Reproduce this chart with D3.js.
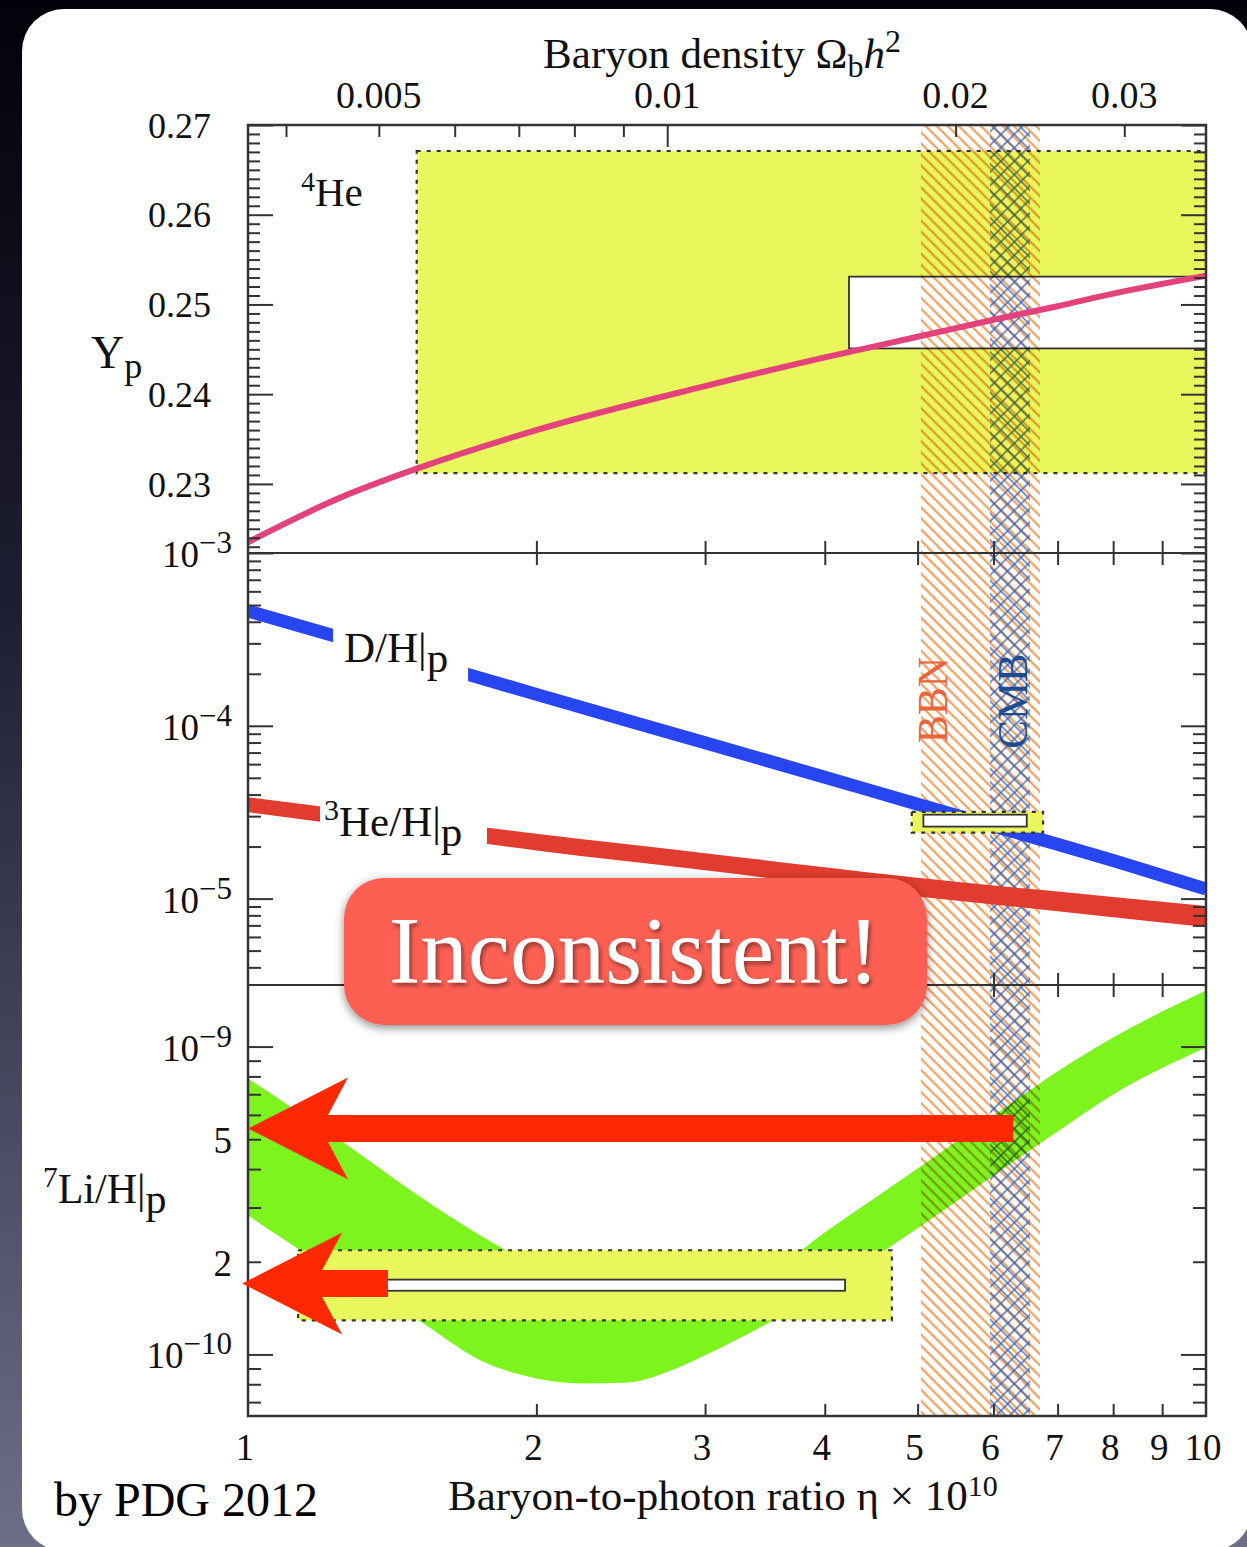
<!DOCTYPE html>
<html>
<head>
<meta charset="utf-8">
<script src="https://cdn.jsdelivr.net/npm/d3@7"></script>
<style>
html, body { margin: 0; padding: 0; background: #000; }
svg text { font-family: "Liberation Serif", "Times New Roman", serif; }
</style>
</head>
<body>
<svg id="chart" width="1247" height="1547"></svg>
<script>

// ---- tick labels ----
let etaLabels = [1, 2, 3, 4, 5, 6, 7, 8, 9, 10];
let omegaLabels = [0.005, 0.01, 0.02, 0.03];
let omegaMinor = [0.004, 0.006, 0.007, 0.008, 0.009];
let ypLabels = [0.23, 0.24, 0.25, 0.26, 0.27];
let midLabels = [1e-3, 1e-4, 1e-5];
let liLabels = [1e-9, 5e-10, 2e-10, 1e-10];

// ---- theory curves ----
let etaYp = [1, 1.25, 1.5, 2, 3, 4, 5, 6, 7, 8, 10];
let ypTheory = [0.2235, 0.2285, 0.2317, 0.2360, 0.2409, 0.2441, 0.2464, 0.2483, 0.2498, 0.2512, 0.2532];

let etaMid = [1, 1.5, 2, 3, 4, 5, 6, 7, 8, 10];
let dhTheory = [4.62e-4, 2.42e-4, 1.52e-4, 7.98e-5, 5.04e-5, 3.52e-5, 2.63e-5, 2.06e-5, 1.66e-5, 1.135e-5];
let he3High = [3.86e-5, 2.90e-5, 2.37e-5, 1.83e-5, 1.52e-5, 1.32e-5, 1.19e-5, 1.10e-5, 1.02e-5, 9.06e-6];
let he3Low = [3.16e-5, 2.35e-5, 1.90e-5, 1.46e-5, 1.20e-5, 1.03e-5, 9.25e-6, 8.46e-6, 7.80e-6, 6.84e-6];

let etaLi = [1, 1.25, 1.5, 1.75, 2, 2.25, 2.5, 2.75, 3, 3.5, 4, 5, 6, 7, 8, 10];
let liHigh = [7.87e-10, 4.95e-10, 3.31e-10, 2.43e-10, 1.945e-10, 1.73e-10, 1.61e-10, 1.60e-10, 1.65e-10, 1.85e-10, 2.49e-10, 4.02e-10, 5.97e-10, 8.30e-10, 1.07e-9, 1.52e-9];
let liLow = [2.83e-10, 1.80e-10, 1.30e-10, 9.56e-11, 8.36e-11, 8.05e-11, 8.11e-11, 8.81e-11, 9.93e-11, 1.27e-10, 1.63e-10, 2.57e-10, 3.81e-10, 5.30e-10, 6.99e-10, 9.93e-10];

// ---- observed abundances: eta range and value range ----
let ypObsEta = [1.5, 10], ypObs = [0.2312, 0.2671];
let ypObsInEta = [4.24, 10], ypObsIn = [0.2451, 0.2531];
let dhObsEta = [4.93, 6.76], dhObs = [2.41e-5, 3.18e-5];
let dhObsInEta = [5.07, 6.50], dhObsIn = [2.61e-5, 3.06e-5];
let liObsEta = [1.128, 4.70], liObs = [1.29e-10, 2.18e-10];
let liObsInEta = [1.25, 4.20], liObsIn = [1.61e-10, 1.75e-10];

let bbnEta = [5.04, 6.71];
let cmbEta = [5.95, 6.55];

// label gaps in the D/H and 3He lines
let dhGap = [1.227, 1.697];
let he3Gap = [1.189, 1.776];

// arrows: from eta -> to eta at a Li value
let arrowFrom = [6.29, 1.40];
let arrowTo = [1.0, 0.986];
let arrowLi = [5.42e-10, 1.70e-10];

const OMEGA_TO_ETA = 273.9;

// ---- layout ----
const W = 1247, H = 1547;
const L = 248, R = 1206, T = 125, B = 1416;
const Y1 = 553, Y2 = 985;
const AX = '#333';

let svg = d3.select('#chart');
let defs = svg.append('defs');

// scales
let x = d3.scaleLog().domain([1, 10]).range([L, R]);
let xTop = d3.scaleLog().domain([1 / OMEGA_TO_ETA, 10 / OMEGA_TO_ETA]).range([L, R]);
let yHe = d3.scaleLinear().domain([0.2223, 0.27]).range([Y1, T]);
let yMid = d3.scaleLog().domain([Math.pow(10, -5.5), 1e-3]).range([Y2, Y1]);
let yLi = d3.scaleLog().domain([Math.pow(10, -10.2), Math.pow(10, -8.8)]).range([B, Y2]);

// background and card
let bg = defs.append('linearGradient').attr('id', 'bg')
	.attr('x1', 0).attr('y1', 0).attr('x2', 0).attr('y2', 1);
bg.append('stop').attr('offset', '0%').attr('stop-color', '#02020a');
bg.append('stop').attr('offset', '40%').attr('stop-color', '#1f1f34');
bg.append('stop').attr('offset', '100%').attr('stop-color', '#6e6e88');
svg.append('rect').attr('width', W).attr('height', H).attr('fill', 'url(#bg)');
svg.append('rect')
	.attr('x', 22).attr('y', 9).attr('width', 1230).attr('height', 1542)
	.attr('rx', 42).attr('fill', '#fff');

// hatch patterns
function hatch(id, color, angle, gap, w) {
	let p = defs.append('pattern').attr('id', id)
		.attr('patternUnits', 'userSpaceOnUse')
		.attr('width', gap).attr('height', gap)
		.attr('patternTransform', `rotate(${angle})`);
	p.append('line')
		.attr('x1', gap / 2).attr('y1', -1).attr('x2', gap / 2).attr('y2', gap + 1)
		.attr('stroke', color).attr('stroke-width', w);
}
hatch('bbnHatch', '#f4a262', -45, 7.8, 2.3);
hatch('cmbA', '#3a62b2', 45, 9.5, 1.3);
hatch('cmbB', '#3a62b2', -45, 9.5, 1.3);

// shadows
let f1 = defs.append('filter').attr('id', 'boxShadow')
	.attr('x', '-10%').attr('y', '-20%').attr('width', '120%').attr('height', '150%');
f1.append('feDropShadow').attr('dx', 0).attr('dy', 3).attr('stdDeviation', 5)
	.attr('flood-color', '#000').attr('flood-opacity', 0.45);
let f2 = defs.append('filter').attr('id', 'textShadow');
f2.append('feDropShadow').attr('dx', 2).attr('dy', 3).attr('stdDeviation', 2)
	.attr('flood-color', '#000').attr('flood-opacity', 0.45);

defs.append('clipPath').attr('id', 'plotClip')
	.append('rect').attr('x', L).attr('y', T).attr('width', R - L).attr('height', B - T);

let plot = svg.append('g').attr('clip-path', 'url(#plotClip)');

function obsBox(g, etaR, valR, inEtaR, inValR, yScale) {
	g.append('rect')
		.attr('x', x(etaR[0])).attr('y', yScale(valR[1]))
		.attr('width', x(etaR[1]) - x(etaR[0]))
		.attr('height', yScale(valR[0]) - yScale(valR[1]))
		.attr('fill', '#e9f65c')
		.attr('stroke', '#333').attr('stroke-width', 2.2)
		.attr('stroke-dasharray', '4,6');
	g.append('rect')
		.attr('x', x(inEtaR[0])).attr('y', yScale(inValR[1]))
		.attr('width', x(inEtaR[1]) - x(inEtaR[0]))
		.attr('height', yScale(inValR[0]) - yScale(inValR[1]))
		.attr('fill', '#fff')
		.attr('stroke', '#333').attr('stroke-width', 1.8);
}

// ---- Li band and observation boxes ----
let liData = etaLi.map((e, i) => ({ eta: e, hi: liHigh[i], lo: liLow[i] }));
plot.append('path')
	.attr('fill', '#7df41e')
	.attr('d', d3.area()
		.x(d => x(d.eta)).y0(d => yLi(d.lo)).y1(d => yLi(d.hi))
		.curve(d3.curveMonotoneX)(liData));

obsBox(plot, ypObsEta, ypObs, ypObsInEta, ypObsIn, yHe);
obsBox(plot, liObsEta, liObs, liObsInEta, liObsIn, yLi);

// ---- BBN / CMB hatching ----
let hatchG = plot.append('g').style('mix-blend-mode', 'multiply');
hatchG.append('rect')
	.attr('x', x(bbnEta[0])).attr('y', T)
	.attr('width', x(bbnEta[1]) - x(bbnEta[0])).attr('height', B - T)
	.attr('fill', 'url(#bbnHatch)');
['cmbA', 'cmbB'].forEach(id => {
	hatchG.append('rect')
		.attr('x', x(cmbEta[0])).attr('y', T)
		.attr('width', x(cmbEta[1]) - x(cmbEta[0])).attr('height', B - T)
		.attr('fill', `url(#${id})`);
});

// ---- theory curves ----
plot.append('path')
	.attr('fill', 'none').attr('stroke', '#e3427d').attr('stroke-width', 6)
	.attr('d', d3.line().x((d, i) => x(etaYp[i])).y(d => yHe(d))
		.curve(d3.curveMonotoneX)(ypTheory));

let he3Data = etaMid.map((e, i) => ({ eta: e, hi: he3High[i], lo: he3Low[i] }));
plot.append('path')
	.attr('fill', '#e23b2f')
	.attr('d', d3.area()
		.x(d => x(d.eta)).y0(d => yMid(d.lo)).y1(d => yMid(d.hi))
		.curve(d3.curveMonotoneX)(he3Data));

plot.append('path')
	.attr('fill', 'none').attr('stroke', '#2845f2').attr('stroke-width', 13)
	.attr('d', d3.line().x((d, i) => x(etaMid[i])).y(d => yMid(d))
		.curve(d3.curveMonotoneX)(dhTheory));

// gaps for the inline labels
plot.append('rect').attr('fill', '#fff')
	.attr('x', x(dhGap[0])).attr('width', x(dhGap[1]) - x(dhGap[0]))
	.attr('y', yMid(4e-4)).attr('height', yMid(1.2e-4) - yMid(4e-4));
plot.append('rect').attr('fill', '#fff')
	.attr('x', x(he3Gap[0])).attr('width', x(he3Gap[1]) - x(he3Gap[0]))
	.attr('y', yMid(4.5e-5)).attr('height', yMid(1.7e-5) - yMid(4.5e-5));

obsBox(plot, dhObsEta, dhObs, dhObsInEta, dhObsIn, yMid);

// ---- frame, dividers and ticks ----
svg.append('rect')
	.attr('x', L).attr('y', T).attr('width', R - L).attr('height', B - T)
	.attr('fill', 'none').attr('stroke', AX).attr('stroke-width', 2.5);
[Y1, Y2].forEach(yy => {
	svg.append('line').attr('x1', L).attr('x2', R).attr('y1', yy).attr('y2', yy)
		.attr('stroke', AX).attr('stroke-width', 2);
});

function ticks(axisFn, scale, values, size, tx, ty) {
	let g = svg.append('g').attr('transform', `translate(${tx},${ty})`)
		.call(axisFn(scale).tickValues(values).tickSize(size).tickFormat(''));
	g.select('.domain').remove();
	g.selectAll('line').attr('stroke', AX).attr('stroke-width', 2);
}

let isDecade = v => Math.abs(Math.log10(v) - Math.round(Math.log10(v))) < 1e-6;

let ypAll = d3.range(223, 271).map(i => i / 1000);
let ypMinor = ypAll.filter(v => Math.round(v * 1000) % 10 !== 0);
let ypMajor = ypAll.filter(v => Math.round(v * 1000) % 10 === 0);
let midAll = yMid.ticks();
let liAll = yLi.ticks();
let innerEta = etaLabels.filter(e => e > 1 && e < 10);

[[d3.axisLeft, L], [d3.axisRight, R]].forEach(([fn, px]) => {
	ticks(fn, yHe, ypMinor, -12, px, 0);
	ticks(fn, yHe, ypMajor, -25, px, 0);
	ticks(fn, yMid, midAll.filter(v => !isDecade(v)), -13, px, 0);
	ticks(fn, yMid, midAll.filter(isDecade), -25, px, 0);
	ticks(fn, yLi, liAll.filter(v => !isDecade(v)), -13, px, 0);
	ticks(fn, yLi, liAll.filter(isDecade), -25, px, 0);
});

ticks(d3.axisTop, xTop, omegaMinor.concat([0.005, 0.02, 0.03]), -12, 0, T);
ticks(d3.axisTop, xTop, [0.01], -22, 0, T);
[Y1, Y2].forEach(yy => {
	ticks(d3.axisTop, x, innerEta, 12, 0, yy);
	ticks(d3.axisBottom, x, innerEta, 12, 0, yy);
});
ticks(d3.axisBottom, x, innerEta, -12, 0, B);

// ---- tick labels ----
svg.append('g').selectAll('text').data(omegaLabels).join('text')
	.attr('x', d => xTop(d)).attr('y', 108)
	.attr('text-anchor', 'middle').attr('font-size', 38).attr('fill', '#111')
	.text(d => String(d));

svg.append('g').selectAll('text').data(ypLabels).join('text')
	.attr('x', 211).attr('y', d => yHe(d)).attr('dy', '0.35em')
	.attr('text-anchor', 'end').attr('font-size', 36).attr('fill', '#111')
	.text(d => d.toFixed(2));

function powLabel(v, yScale) {
	let t = svg.append('text')
		.attr('x', 232).attr('y', yScale(v)).attr('dy', '0.38em')
		.attr('text-anchor', 'end').attr('font-size', 37).attr('fill', '#111');
	let e = Math.round(Math.log10(v));
	let m = v / Math.pow(10, e);
	if (Math.abs(m - 1) < 1e-6) {
		t.append('tspan').text('10');
		t.append('tspan').attr('dy', -14).attr('font-size', 31).text('\u2212' + Math.abs(e));
	} else {
		t.text(String(Math.round(v / Math.pow(10, Math.floor(Math.log10(v))))));
	}
}
midLabels.forEach(v => powLabel(v, yMid));
liLabels.forEach(v => powLabel(v, yLi));

svg.append('g').selectAll('text').data(etaLabels).join('text')
	.attr('x', d => x(d) - 3).attr('y', 1460)
	.attr('text-anchor', 'middle').attr('font-size', 37).attr('fill', '#111')
	.text(d => String(d));

// ---- axis titles and labels ----
let topTitle = svg.append('text').attr('x', 722).attr('y', 68)
	.attr('text-anchor', 'middle').attr('font-size', 43).attr('fill', '#111');
topTitle.append('tspan').text('Baryon density \u03A9');
topTitle.append('tspan').attr('dy', 9).attr('font-size', 32).text('b');
topTitle.append('tspan').attr('dy', -9).attr('font-style', 'italic').text('h');
topTitle.append('tspan').attr('dy', -16).attr('font-size', 32).text('2');

let botTitle = svg.append('text').attr('x', 448).attr('y', 1510)
	.attr('font-size', 43).attr('fill', '#111');
botTitle.append('tspan').text('Baryon-to-photon ratio \u03B7 \u00D7 10');
botTitle.append('tspan').attr('dy', -14).attr('font-size', 30).text('10');

svg.append('text').attr('x', 54).attr('y', 1516)
	.attr('font-size', 48).attr('fill', '#000').text('by PDG 2012');

let yp = svg.append('text').attr('x', 91).attr('y', 368).attr('font-size', 46).attr('fill', '#111');
yp.append('tspan').text('Y');
yp.append('tspan').attr('dy', 10).attr('font-size', 36).text('p');

let he4 = svg.append('text').attr('x', 301).attr('y', 206).attr('font-size', 41).attr('fill', '#111');
he4.append('tspan').attr('dy', -15).attr('font-size', 28).text('4');
he4.append('tspan').attr('dy', 15).text('He');

function ratioLabel(px, py, sup, name, size) {
	let t = svg.append('text').attr('x', px).attr('y', py).attr('font-size', size).attr('fill', '#111');
	if (sup) t.append('tspan').attr('dy', -16).attr('font-size', size * 0.7).text(sup);
	t.append('tspan').attr('dy', sup ? 16 : 0).text(name + '|');
	t.append('tspan').attr('dy', 10).attr('font-size', size).text('p');
}
ratioLabel(344, 662, '', 'D/H', 43);
ratioLabel(324, 836, '3', 'He/H', 43);
ratioLabel(43, 1203, '7', 'Li/H', 42);

// BBN / CMB vertical labels
svg.append('text')
	.attr('transform', `translate(${x(bbnEta[0]) + 26},700) rotate(-90)`)
	.attr('text-anchor', 'middle').attr('font-size', 42).attr('fill', '#e8643a')
	.text('BBN');
svg.append('text')
	.attr('transform', `translate(${x(cmbEta[1]) - 3},701) rotate(-90)`)
	.attr('text-anchor', 'middle').attr('font-size', 43).attr('fill', '#1c4c94')
	.text('CMB');

// ---- annotations ----
arrowFrom.forEach((from, i) => {
	let tip = x(arrowTo[i]), tail = x(from), cy = yLi(arrowLi[i]);
	let p = d3.path();
	p.moveTo(tip, cy);
	p.lineTo(tip + 100, cy - 51);
	p.lineTo(tip + 80, cy - 13.5);
	p.lineTo(tail, cy - 13.5);
	p.lineTo(tail, cy + 13.5);
	p.lineTo(tip + 80, cy + 13.5);
	p.lineTo(tip + 100, cy + 51);
	p.closePath();
	svg.append('path').attr('d', p.toString()).attr('fill', '#ff2800');
});

svg.append('rect')
	.attr('x', 344).attr('y', 878).attr('width', 583).attr('height', 147)
	.attr('rx', 40).attr('fill', '#fd6152')
	.attr('filter', 'url(#boxShadow)');
svg.append('text')
	.attr('x', 634).attr('y', 983)
	.attr('text-anchor', 'middle').attr('font-size', 95).attr('fill', '#fff')
	.attr('filter', 'url(#textShadow)')
	.text('Inconsistent!');

</script>
</body>
</html>
